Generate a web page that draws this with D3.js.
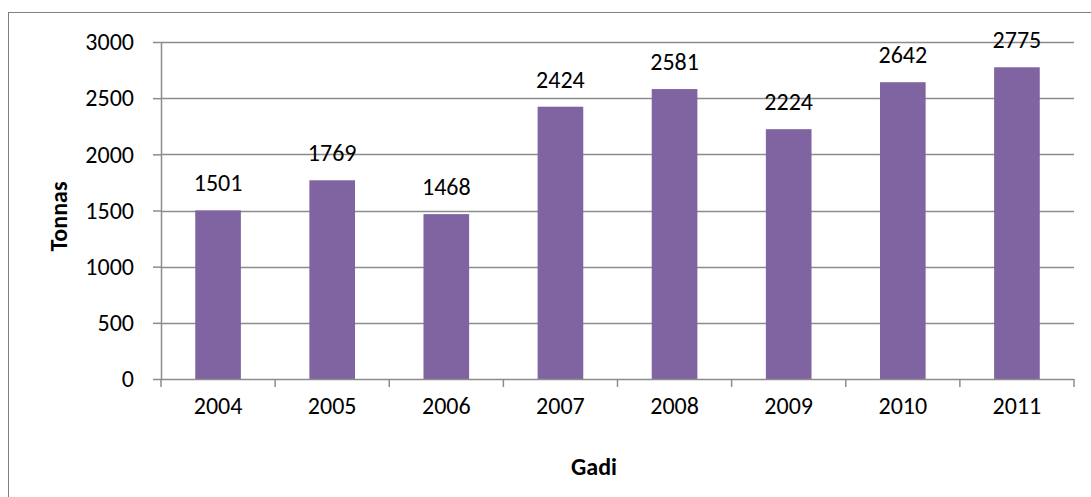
<!DOCTYPE html>
<html>
<head>
<meta charset="utf-8">
<script src="https://cdn.jsdelivr.net/npm/d3@7"></script>
<style>
  body { margin: 0; background: #fff; }
  text { font-family: Carlito, "Open Sans", "Liberation Sans", sans-serif; }
</style>
</head>
<body>
<div id="chart"></div>
<script>
const years = ["2004", "2005", "2006", "2007", "2008", "2009", "2010", "2011"];
const tonnas = [1501, 1769, 1468, 2424, 2581, 2224, 2642, 2775];
const yTicks = [0, 500, 1000, 1500, 2000, 2500, 3000];

const W = 1091, H = 497;
const margin = {top: 42, right: 17, bottom: 118, left: 161};
const width = W - margin.left - margin.right;
const height = H - margin.top - margin.bottom;
const FONT = 'Carlito, "Open Sans", "Liberation Sans", sans-serif';
const FS = 24;

const svg = d3.select("#chart").append("svg")
  .attr("width", W).attr("height", H);

// outer frame
svg.append("rect")
  .attr("x", 8.5).attr("y", 12.5)
  .attr("width", W + 10).attr("height", H + 10)
  .attr("fill", "none").attr("stroke", "#808080").attr("stroke-width", 1);

const g = svg.append("g").attr("transform", `translate(${margin.left},${margin.top})`);

const xc = d3.scaleBand().domain(years).range([0, width]);
const y = d3.scaleLinear().domain([0, 3000]).range([height, 0]);
const barW = xc.bandwidth() * 0.4;

// gridlines
g.selectAll(".grid").data(yTicks.slice(1)).join("line")
  .attr("x1", 0).attr("x2", width)
  .attr("y1", d => Math.round(y(d)) + 0.5).attr("y2", d => Math.round(y(d)) + 0.5)
  .attr("stroke", "#8c8c8c").attr("stroke-width", 1.5);

// bars
g.selectAll(".bar").data(tonnas).join("rect")
  .attr("x", (d, i) => xc(years[i]) + (xc.bandwidth() - barW) / 2)
  .attr("width", barW)
  .attr("y", d => y(d))
  .attr("height", d => height - y(d))
  .attr("fill", "#8064a2");

// value labels
g.selectAll(".val").data(tonnas).join("text")
  .attr("x", (d, i) => xc(years[i]) + xc.bandwidth() / 2)
  .attr("y", d => y(d) - 19)
  .attr("text-anchor", "middle")
  .attr("font-size", FS)
  .attr("fill", "#000")
  .text(d => d);

// y axis
const yAxis = d3.axisLeft(y).tickValues(yTicks).tickFormat(d3.format("d")).tickSize(8).tickPadding(19);
const yG = g.append("g").call(yAxis);
yG.select(".domain").attr("stroke", "#8c8c8c").attr("stroke-width", 1.5).attr("d", `M0.5,0V${height}`);
yG.selectAll(".tick line").attr("stroke", "#8c8c8c").attr("stroke-width", 1.5);
yG.selectAll(".tick text").attr("font-size", FS).attr("fill", "#000").style("font-family", FONT);

// x axis
const xAxis = d3.axisBottom(xc).tickSize(0).tickPadding(18);
const xG = g.append("g").attr("transform", `translate(0,${height})`).call(xAxis);
xG.select(".domain").attr("stroke", "#8c8c8c").attr("stroke-width", 1.5).attr("d", `M0,0.5H${width}`);
xG.selectAll(".tick text").attr("font-size", FS).attr("fill", "#000").style("font-family", FONT);
// category separators
xG.selectAll(".sep").data(d3.range(years.length + 1)).join("line")
  .attr("x1", i => i * xc.step()).attr("x2", i => i * xc.step())
  .attr("y1", 0).attr("y2", 8)
  .attr("stroke", "#8c8c8c").attr("stroke-width", 1.5);

// axis titles
svg.append("text")
  .attr("transform", `translate(67,${margin.top + height / 2 + 6}) rotate(-90)`)
  .attr("text-anchor", "middle")
  .attr("font-size", FS).attr("font-weight", "bold")
  .text("Tonnas");

svg.append("text")
  .attr("x", 594).attr("y", 475)
  .attr("text-anchor", "middle")
  .attr("font-size", FS).attr("font-weight", "bold")
  .text("Gadi");
</script>
</body>
</html>
